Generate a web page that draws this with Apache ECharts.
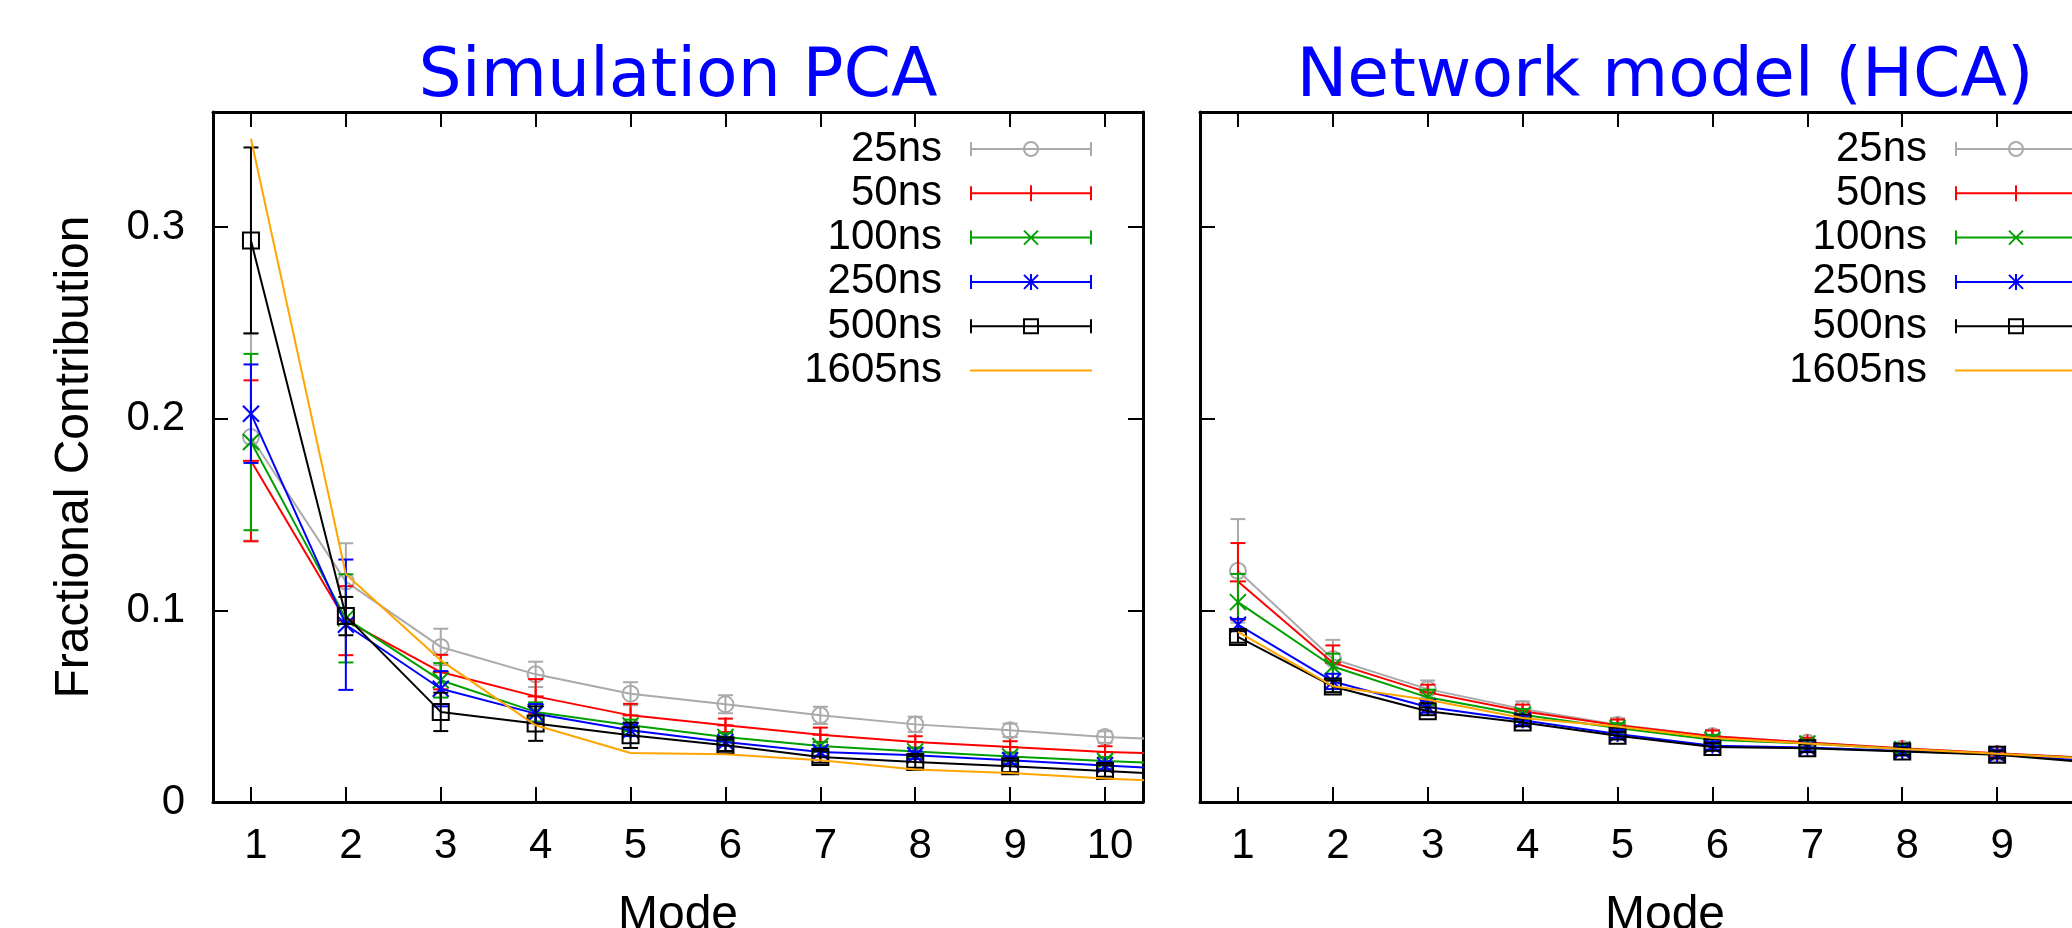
<!DOCTYPE html>
<html>
<head>
<meta charset="utf-8">
<script src="https://cdn.jsdelivr.net/npm/echarts@6/dist/echarts.min.js"></script>
<style>html,body{margin:0;padding:0;background:#fff}#c{width:2072px;height:928px}</style>
</head>
<body>
<div id="c"></div>
<script>
// ---------- data ----------
const modes = [1, 2, 3, 4, 5, 6, 7, 8, 9, 10, 11];
const xTickValues = [1, 2, 3, 4, 5, 6, 7, 8, 9, 10];
const yTickValues = [0, 0.1, 0.2, 0.3];
const seriesNames = ['25ns', '50ns', '100ns', '250ns', '500ns', '1605ns'];
const panelTitles = ['Simulation PCA', 'Network model (HCA)'];

// Simulation PCA
const pca25    = [0.1904, 0.1150, 0.0809, 0.0666, 0.0565, 0.0510, 0.0452, 0.0405, 0.0374, 0.0339, 0.0319];
const pca25Err = [0.054, 0.020, 0.0095, 0.0066, 0.006, 0.0047, 0.0045, 0.004, 0.0035, 0.003, 0.003];
const pca50    = [0.1780, 0.0946, 0.0678, 0.0551, 0.0452, 0.0400, 0.0351, 0.0313, 0.0287, 0.0261, 0.0248];
const pca50Err = [0.042, 0.018, 0.009, 0.009, 0.006, 0.0035, 0.0037, 0.003, 0.003, 0.003, 0.003];
const pca100    = [0.1878, 0.0958, 0.0635, 0.0470, 0.0400, 0.0339, 0.0292, 0.0264, 0.0238, 0.0214, 0.0194];
const pca100Err = [0.046, 0.023, 0.009, 0.005, 0.003, 0.002, 0.002, 0.002, 0.002, 0.002, 0.002];
const pca250    = [0.2026, 0.0925, 0.0591, 0.0461, 0.0374, 0.0313, 0.0261, 0.0244, 0.0218, 0.0191, 0.0165];
const pca250Err = [0.0257, 0.034, 0.0092, 0.005, 0.003, 0.002, 0.002, 0.002, 0.002, 0.002, 0.002];
const pca500    = [0.2930, 0.0970, 0.0470, 0.0409, 0.0348, 0.0296, 0.0235, 0.0209, 0.0186, 0.0162, 0.0135];
const pca500Err = [0.0485, 0.010, 0.010, 0.009, 0.0066, 0.003, 0.003, 0.003, 0.003, 0.003, 0.003];
const pca1605   = [0.3460, 0.1188, 0.0739, 0.0400, 0.0256, 0.0249, 0.0218, 0.0169, 0.0151, 0.0122, 0.0100];

// Network model (HCA)
const hca25    = [0.1206, 0.0746, 0.0589, 0.0485, 0.0403, 0.0345, 0.0310, 0.0278, 0.0252, 0.0228];
const hca25Err = [0.027, 0.010, 0.0045, 0.004, 0.0035, 0.003, 0.0025, 0.002, 0.002, 0.002];
const hca50    = [0.1151, 0.0727, 0.0572, 0.0473, 0.0400, 0.0343, 0.0310, 0.0280, 0.0254, 0.0230];
const hca50Err = [0.020, 0.009, 0.004, 0.0035, 0.003, 0.003, 0.0025, 0.002, 0.002, 0.002];
const hca100    = [0.1043, 0.0707, 0.0546, 0.0455, 0.0386, 0.0325, 0.0305, 0.0276, 0.0250, 0.0228];
const hca100Err = [0.0147, 0.0067, 0.004, 0.003, 0.0025, 0.0025, 0.002, 0.002, 0.002, 0.002];
const hca250    = [0.0925, 0.0629, 0.0496, 0.0426, 0.0355, 0.0294, 0.0284, 0.0266, 0.0249, 0.0212];
const hca250Err = [0.003, 0.004, 0.003, 0.0025, 0.002, 0.002, 0.002, 0.002, 0.002, 0.002];
const hca500    = [0.0861, 0.0603, 0.0473, 0.0415, 0.0346, 0.0287, 0.0280, 0.0264, 0.0247, 0.0205];
const hca500Err = [0.003, 0.003, 0.002, 0.002, 0.002, 0.002, 0.002, 0.002, 0.002, 0.002];
const hca1605   = [0.0887, 0.0604, 0.0534, 0.0438, 0.0394, 0.0334, 0.0305, 0.0276, 0.0252, 0.0226];

// ---------- styling ----------
const colors = ['#aaaaaa', '#ff0000', '#00a000', '#0000ff', '#000000', '#ffa500'];
const markerTypes = ['circle', 'plus', 'cross', 'star', 'square', null];
const TICK_FONT = 'Liberation Sans';

const panels = [
  { vals: [pca25, pca50, pca100, pca250, pca500, pca1605],
    errs: [pca25Err, pca50Err, pca100Err, pca250Err, pca500Err, null] },
  { vals: [hca25, hca50, hca100, hca250, hca500, hca1605],
    errs: [hca25Err, hca50Err, hca100Err, hca250Err, hca500Err, null] }
];

const GRID_W = 930, GRID_H = 690, GRID_TOP = 112;
const gridLefts = [213, 1200];

function markerShapes(type, x, y, c) {
  const s = 8;
  const L = (x1, y1, x2, y2) => ({ type: 'line', shape: { x1, y1, x2, y2 }, style: { stroke: c, lineWidth: 2 } });
  switch (type) {
    case 'circle': return [{ type: 'circle', shape: { cx: x, cy: y, r: s }, style: { stroke: c, lineWidth: 2, fill: 'none' } }];
    case 'plus': return [L(x - s, y, x + s, y), L(x, y - s, x, y + s)];
    case 'cross': return [L(x - s, y - s, x + s, y + s), L(x - s, y + s, x + s, y - s)];
    case 'star': return [L(x, y - s, x, y + s), L(x - s, y - s, x + s, y + s), L(x - s, y + s, x + s, y - s)];
    case 'square': return [{ type: 'rect', shape: { x: x - s, y: y - s, width: 2 * s, height: 2 * s }, style: { stroke: c, lineWidth: 2, fill: 'none' } }];
  }
  return [];
}

function makeRenderItem(type, c) {
  return function (params, api) {
    const x = api.value(0), y = api.value(1), e = api.value(2);
    const p = api.coord([x, y]);
    const lo = api.coord([x, y - e]);
    const hi = api.coord([x, y + e]);
    const cw = 7.5;
    const st = { stroke: c, lineWidth: 2 };
    const children = [
      { type: 'line', shape: { x1: p[0], y1: lo[1], x2: p[0], y2: hi[1] }, style: st },
      { type: 'line', shape: { x1: p[0] - cw, y1: lo[1], x2: p[0] + cw, y2: lo[1] }, style: st },
      { type: 'line', shape: { x1: p[0] - cw, y1: hi[1], x2: p[0] + cw, y2: hi[1] }, style: st }
    ].concat(markerShapes(type, p[0], p[1], c));
    return { type: 'group', children };
  };
}

// legend icon as filled path (122 x 16 box)
function legendIcon(type) {
  let p = 'M0,0 L0,0 M122,16 L122,16 ';
  p += 'M0,7 L122,7 L122,9 L0,9 Z ';
  if (type) {
    p += 'M0,1 L2,1 L2,15 L0,15 Z M120,1 L122,1 L122,15 L120,15 Z ';
    if (type === 'circle') {
      p += 'M53,8 A8,8 0 1,1 69,8 A8,8 0 1,1 53,8 Z M55,8 A6,6 0 1,0 67,8 A6,6 0 1,0 55,8 Z ';
    } else if (type === 'square') {
      p += 'M53,0 L69,0 L69,16 L53,16 Z M55,2 L55,14 L67,14 L67,2 Z ';
    } else {
      if (type === 'plus' || type === 'star') p += 'M60,0 L62,0 L62,16 L60,16 Z ';
      if (type === 'cross' || type === 'star') {
        p += 'M54.7,0.3 L68.7,14.3 L67.3,15.7 L53.3,1.7 Z ';
        p += 'M68.7,1.7 L54.7,15.7 L53.3,14.3 L67.3,0.3 Z ';
      }
    }
  }
  return 'path://' + p.trim();
}

const legendData = seriesNames.map((n, k) => ({
  name: n, icon: legendIcon(markerTypes[k]), itemStyle: { color: colors[k], borderWidth: 0 }
}));

// ---------- axes ----------
const axisLineStyle = { color: '#000', width: 3 };
const tickStyle = { color: '#000', width: 2 };
const xAxes = [], yAxes = [];
[0, 1].forEach(g => {
  ['bottom', 'top'].forEach(pos => {
    const main = pos === 'bottom';
    xAxes.push({
      type: 'value', gridIndex: g, position: pos, min: 0.6, max: 10.4,
      axisLine: { show: true, onZero: false, lineStyle: axisLineStyle },
      axisTick: { show: true, inside: true, length: 15, customValues: xTickValues, lineStyle: tickStyle },
      axisLabel: { show: main, customValues: xTickValues, margin: 23, fontSize: 42, fontFamily: TICK_FONT, color: '#000', padding: [0, 0, 0, 10] },
      splitLine: { show: false },
      name: main ? 'Mode' : '', nameLocation: 'middle', nameGap: 90, nameMoveOverlap: false,
      nameTextStyle: { fontSize: 48, fontFamily: TICK_FONT, color: '#000' }
    });
  });
  ['left', 'right'].forEach(pos => {
    const main = pos === 'left';
    yAxes.push({
      type: 'value', gridIndex: g, position: pos, min: 0, max: 0.36,
      axisLine: { show: true, onZero: false, lineStyle: axisLineStyle },
      axisTick: { show: true, inside: true, length: 15, customValues: yTickValues, lineStyle: tickStyle },
      axisLabel: { show: main && g === 0, customValues: yTickValues, margin: 28, fontSize: 42, fontFamily: TICK_FONT, color: '#000' },
      splitLine: { show: false },
      name: (main && g === 0) ? 'Fractional Contribution' : '', nameLocation: 'middle', nameGap: 114, nameMoveOverlap: false,
      nameTextStyle: { fontSize: 48, fontFamily: TICK_FONT, color: '#000' }
    });
  });
});

// ---------- series ----------
const series = [];
panels.forEach((panel, g) => {
  seriesNames.forEach((n, k) => {
    const v = panel.vals[k];
    series.push({
      type: 'line', name: n, xAxisIndex: g * 2, yAxisIndex: g * 2,
      data: v.map((y, i) => [modes[i], y]),
      symbol: 'none', showSymbol: false, color: colors[k],
      lineStyle: { width: 2, color: colors[k] }, clip: true, z: 2 + k, silent: true
    });
    const e = panel.errs[k];
    if (e) {
      series.push({
        type: 'custom', name: n, xAxisIndex: g * 2, yAxisIndex: g * 2,
        data: v.map((y, i) => [modes[i], y, e[i]]),
        encode: { x: 0, y: 1 }, color: colors[k],
        renderItem: makeRenderItem(markerTypes[k], colors[k]), clip: true, z: 2 + k, silent: true
      });
    }
  });
});

const legendCommon = {
  orient: 'vertical', align: 'right', top: 127, itemWidth: 122, itemHeight: 16, itemGap: 0.3,
  padding: 0, selectedMode: false, data: legendData,
  textStyle: { fontSize: 42, fontFamily: TICK_FONT, color: '#000', lineHeight: 44, padding: [0, 23, 0, 0] }
};

const titleStyle = { fontFamily: 'DejaVu Sans', fontSize: 68, fontWeight: 'normal', color: '#0000ff', lineHeight: 68 };

const option = {
  animation: false,
  backgroundColor: '#fff',
  title: panelTitles.map((t, g) => ({
    text: t, left: gridLefts[g] + GRID_W / 2, top: 44, textAlign: 'center', padding: 0, textStyle: titleStyle
  })),
  legend: [
    Object.assign({}, legendCommon, { right: 980 }),
    Object.assign({}, legendCommon, { right: -5 })
  ],
  grid: gridLefts.map(l => ({ left: l, top: GRID_TOP, width: GRID_W, height: GRID_H, containLabel: false, outerBoundsMode: 'none' })),
  xAxis: xAxes,
  yAxis: yAxes,
  series
};

const chart = echarts.init(document.getElementById('c'), null, { renderer: 'canvas' });
chart.setOption(option);
</script>
</body>
</html>
